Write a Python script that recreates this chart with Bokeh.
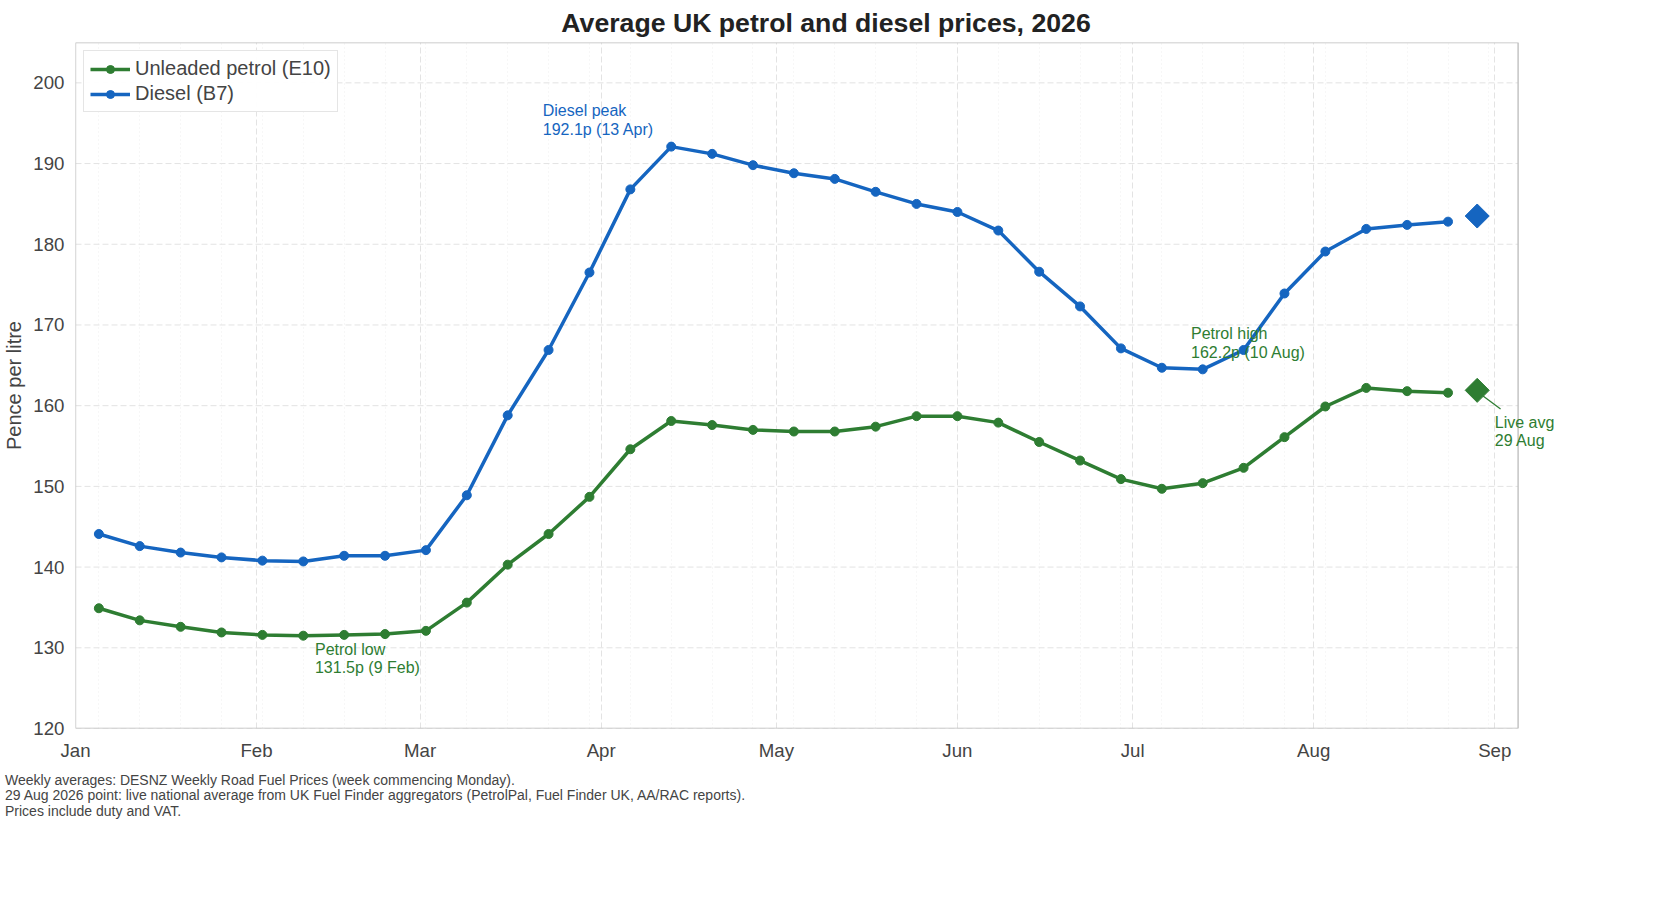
from datetime import datetime, timedelta
from bokeh.plotting import figure
from bokeh.models import FixedTicker, DatetimeTickFormatter, Label, Div, Legend, LegendItem
from bokeh.layouts import column
from bokeh.embed import file_html
from bokeh.resources import INLINE

start = datetime(2026, 1, 5)
weeks = [start + timedelta(days=7 * i) for i in range(34)]
diesel = [144.1, 142.6, 141.8, 141.2, 140.8, 140.7, 141.4, 141.4, 142.1, 148.9, 158.8, 166.9, 176.5, 186.8,
          192.1, 191.2, 189.8, 188.8, 188.1, 186.5, 185.0, 184.0, 181.7, 176.6, 172.3, 167.1, 164.7, 164.5,
          166.9, 173.9, 179.1, 181.9, 182.4, 182.8]
petrol = [134.9, 133.4, 132.6, 131.9, 131.6, 131.5, 131.6, 131.7, 132.1, 135.6, 140.3, 144.1, 148.7, 154.6,
          158.1, 157.6, 157.0, 156.8, 156.8, 157.4, 158.7, 158.7, 157.9, 155.5, 153.2, 150.9, 149.7, 150.4,
          152.3, 156.1, 159.9, 162.2, 161.8, 161.6]
live_date = datetime(2026, 8, 29)
live_petrol = 161.9
live_diesel = 183.5
months = ["Jan", "Feb", "Mar", "Apr", "May", "Jun", "Jul", "Aug", "Sep"]
y_ticks = [120, 130, 140, 150, 160, 170, 180, 190, 200]

GREEN = "#2e7d32"
BLUE = "#1565c0"
FONT = "Liberation Sans"
x0, x1 = datetime(2026, 1, 1), datetime(2026, 9, 5)
y0, y1 = 120, 205

def ms(d):
    return (d - datetime(1970, 1, 1)).total_seconds() * 1000

p = figure(frame_width=1501, frame_height=686, x_axis_type="datetime", output_backend="svg", toolbar_location=None,
           x_range=(x0, datetime(2026, 9, 15)), y_range=(y0, y1),
           min_border_left=72, min_border_right=0, min_border_top=10, min_border_bottom=30)
p.title.text = "Average UK petrol and diesel prices, 2026"
p.title.align = "center"
p.title.text_font = FONT
p.title.text_font_size = "20pt"
p.title.text_color = "#222222"
p.title.offset = -40

month_ticks = [ms(datetime(2026, m, 1)) for m in range(1, 10)]
week_ticks = [ms(datetime(2025, 12, 29) + timedelta(days=7 * i)) for i in range(36)]
p.xaxis.ticker = FixedTicker(ticks=month_ticks, minor_ticks=week_ticks)
p.xaxis.formatter = DatetimeTickFormatter(months="%b", days="%b", years="%b")
p.yaxis.ticker = FixedTicker(ticks=y_ticks)
p.yaxis.axis_label = "Pence per litre"
for ax in (p.xaxis, p.yaxis):
    ax.major_label_text_font = FONT
    ax.major_label_text_font_size = "14pt"
    ax.axis_label_text_font = FONT
    ax.axis_label_text_font_size = "15pt"
    ax.axis_label_text_font_style = "normal"
    ax.major_tick_line_color = None
    ax.minor_tick_line_color = None
    ax.axis_line_color = None
p.outline_line_color = None
p.ygrid.grid_line_color = None
p.xgrid.grid_line_color = "#e3e3e3"
p.xgrid.grid_line_dash = "6 3"
p.xgrid.minor_grid_line_color = "#eeeeee"
p.xgrid.minor_grid_line_dash = "1 3"

# horizontal gridlines limited to the plotting box
p.segment(x0=[x0] * len(y_ticks), y0=y_ticks, x1=[x1] * len(y_ticks), y1=y_ticks,
          color="#e3e3e3", line_dash="6 3", line_width=1)
# white cover beyond the box so vertical grid stays inside
p.quad(left=[x1], right=[datetime(2026, 9, 15)], bottom=[y0], top=[y1], fill_color="white", line_color=None)
p.quad(left=[x0], right=[x1], bottom=[y0], top=[y1], fill_color=None, line_color="#bbbbbb", line_width=1.3)

lp = p.line(weeks, petrol, color=GREEN, line_width=3.5)
cp = p.scatter(weeks, petrol, color=GREEN, size=9)
ld = p.line(weeks, diesel, color=BLUE, line_width=3.5)
cd = p.scatter(weeks, diesel, color=BLUE, size=9)
p.scatter([live_date], [live_diesel], marker="square", angle=0.785398, size=17, color=BLUE)
p.scatter([live_date], [live_petrol], marker="square", angle=0.785398, size=17, color=GREEN)

legend = Legend(items=[LegendItem(label="Unleaded petrol (E10)", renderers=[lp, cp]),
                       LegendItem(label="Diesel (B7)", renderers=[ld, cd])],
                location="top_left", label_text_font=FONT, label_text_font_size="15pt",
                border_line_color="#cccccc", glyph_width=40, spacing=2, margin=8, padding=6)
p.add_layout(legend)

def ann(x, y, txt, col):
    p.add_layout(Label(x=ms(x), y=y, text=txt, text_color=col, text_font=FONT,
                       text_font_size="12pt", text_baseline="top", text_line_height=1.1))

ann(datetime(2026, 3, 22), 197.6, "Diesel peak\n192.1p (13 Apr)", BLUE)
ann(datetime(2026, 2, 11), 130.9, "Petrol low\n131.5p (9 Feb)", GREEN)
ann(datetime(2026, 7, 11), 170.0, "Petrol high\n162.2p (10 Aug)", GREEN)
ann(datetime(2026, 9, 1), 159.0, "Live avg\n29 Aug", GREEN)
p.segment(x0=[datetime(2026, 8, 30)], y0=[161.2], x1=[datetime(2026, 9, 2)], y1=[159.6], color=GREEN, line_width=1.3)

foot = Div(text="Weekly averages: DESNZ Weekly Road Fuel Prices (week commencing Monday).<br>"
                "29 Aug 2026 point: live national average from UK Fuel Finder aggregators (PetrolPal, Fuel Finder UK, AA/RAC reports).<br>"
                "Prices include duty and VAT.",
           styles={"font-family": FONT, "font-size": "14px", "color": "#444444", "line-height": "1.1",
                   "margin-left": "5px", "margin-top": "10px"})
layout = column(p, foot)
open("out.html", "w").write(file_html(layout, INLINE))
